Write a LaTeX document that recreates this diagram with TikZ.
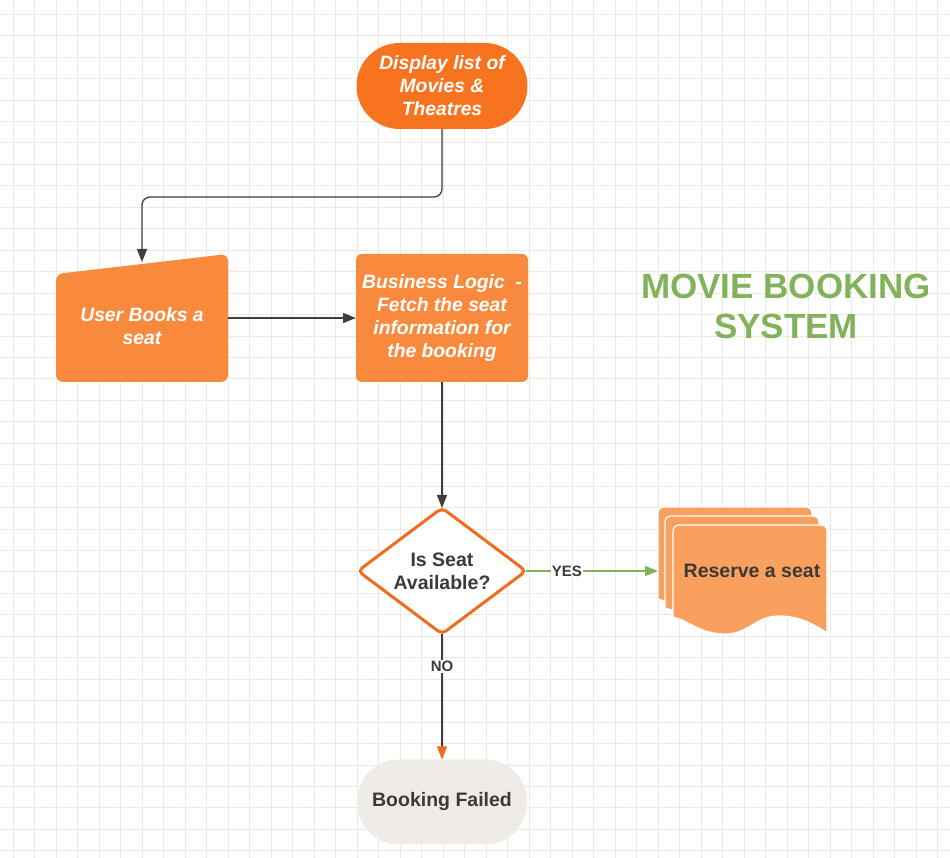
\documentclass[tikz,border=0pt]{standalone}
\usepackage{fontspec}
\setmainfont{Liberation Sans}
\usepackage{tikz}
\usetikzlibrary{calc}
\usetikzlibrary{arrows.meta,shapes.geometric,backgrounds}
\definecolor{od}{HTML}{F7731F}
\definecolor{ol}{HTML}{F98A3D}
\definecolor{op}{HTML}{F9A05F}
\definecolor{or}{HTML}{F26C1F}
\definecolor{gr}{HTML}{82B35B}
\definecolor{tx}{HTML}{3E3935}
\definecolor{ln}{HTML}{433D38}
\definecolor{bg}{HTML}{EFEBE6}
\definecolor{gl}{HTML}{EDE8E2}
\newcommand\boxfont{\fontsize{19.3}{23}\selectfont\bfseries\itshape}
\newcommand\darkfont{\fontsize{19.5}{23}\selectfont\bfseries}
\tikzstyle{gridline}=[gl,line width=1pt]
\tikzstyle{terminal}=[rectangle,rounded corners=43pt,fill=od,text=white,font=\boxfont,
  align=center,minimum width=171pt,minimum height=86pt,inner sep=0pt,outer sep=0pt]
\tikzstyle{process}=[rectangle,rounded corners=6pt,fill=ol,text=white,font=\boxfont,
  align=center,minimum width=172pt,minimum height=128pt,inner sep=0pt,outer sep=0pt]
\tikzstyle{manual}=[rectangle,text=white,font=\boxfont,align=center,
  minimum width=172pt,minimum height=112pt,inner sep=0pt,outer sep=0pt]
\tikzstyle{decision}=[diamond,aspect=1.33,draw=or,line width=3pt,fill=white,rounded corners=5pt,
  text=tx,font=\darkfont,align=center,minimum width=168pt,minimum height=126pt,inner sep=0pt,outer sep=0pt]
\tikzstyle{sheetbox}=[rectangle,text=tx,font=\darkfont,minimum width=188pt,minimum height=128pt,
  inner sep=0pt,outer sep=0pt]
\tikzstyle{failed}=[rectangle,rounded corners=42pt,fill=bg,text=tx,font=\darkfont,
  minimum width=170pt,minimum height=85pt,inner sep=0pt,outer sep=0pt]
\tikzstyle{title}=[text=gr,font=\fontsize{35}{40}\selectfont\bfseries,align=center]
\tikzstyle{sheet}=[fill=op,draw=white,line width=1.2pt]
\tikzstyle{flow}=[->,ln,line width=1.3pt]
\tikzstyle{lbl}=[fill=white,text=tx,font=\fontsize{15}{18}\selectfont\bfseries,inner sep=1pt]
% one sheet of the document stack, top left corner at (#1,#2)
\newcommand\docsheet[2]{%
  \filldraw[sheet] (#1,#2-92) [rounded corners=6pt] -- (#1,#2) -- (#1+154,#2) [sharp corners]
    -- (#1+154,#2-108) .. controls (#1+137,#2-96) and (#1+122,#2-91) .. (#1+106,#2-91)
    .. controls (#1+82,#2-91) and (#1+76,#2-109) .. (#1+52,#2-109)
    .. controls (#1+27,#2-109) and (#1+15,#2-95) .. (#1,#2-92) -- cycle;}

\begin{document}
\begin{tikzpicture}[x=1pt,y=1pt,>={Triangle[length=13pt,width=10pt]},node distance=232pt]
	\useasboundingbox (0,0) rectangle (950,858);
	\begin{pgfonlayer}{background}
		\foreach \gx in {0,...,43}
			\draw[gridline] (13+21.5*\gx,0) -- (13+21.5*\gx,858);
		\foreach \gy in {0,...,39}
			\draw[gridline] (0,843.7-21.45*\gy) -- (950,843.7-21.45*\gy);
	\end{pgfonlayer}

	\node[terminal] (disp) at (442,772) {Display list of\\Movies \&\\Theatres};
	\node[process] (logic) [below of=disp] {Business Logic\ \ -\\Fetch the seat\\information for\\the booking};
	\node[manual] (user) [left of=logic,node distance=300pt,yshift=-8pt] {User Books a\\seat};
	\node[decision] (seat) [below of=logic,node distance=253pt] {Is Seat\\Available?};
	\node[sheetbox] (reserve) [right of=seat,node distance=310pt] {};
	\node[failed] (fail) [below of=seat,node distance=231pt] {Booking Failed};
	\node[title] (head) at (786,552) {MOVIE BOOKING\\SYSTEM};
	\coordinate (userTop) at ($(user.north)+(0,8)$);

	% shapes behind the texts
	\begin{pgfonlayer}{background}
		\fill[ol,rounded corners=7pt] (user.south west) -- ($(user.north west)+(0,-4)$)
			-- ($(user.north east)+(0,16)$) -- (user.south east) -- cycle;
		\begin{scope}[shift={(reserve.west)}]
			\docsheet{0}{64}
			\docsheet{7}{55}
			\docsheet{15}{46}
		\end{scope}
	\end{pgfonlayer}
	\node[text=tx,font=\darkfont] (reserveText) at (reserve) {Reserve a seat};

	\draw[flow,rounded corners=8pt] (disp.south) -- ++(0,-68) -| (userTop);
	\draw[flow] (user.east |- logic.west) -- (logic.west);
	\draw[flow] (logic) -- (seat);
	\draw[->,gr,line width=1.3pt] (seat) -- node[lbl,pos=.31]{YES} (reserve);
	\draw[->,>={Triangle[length=13pt,width=10pt,color=or]},ln,line width=1.3pt]
		(seat) -- node[lbl,pos=.26]{NO} (fail);
\end{tikzpicture}
\end{document}
